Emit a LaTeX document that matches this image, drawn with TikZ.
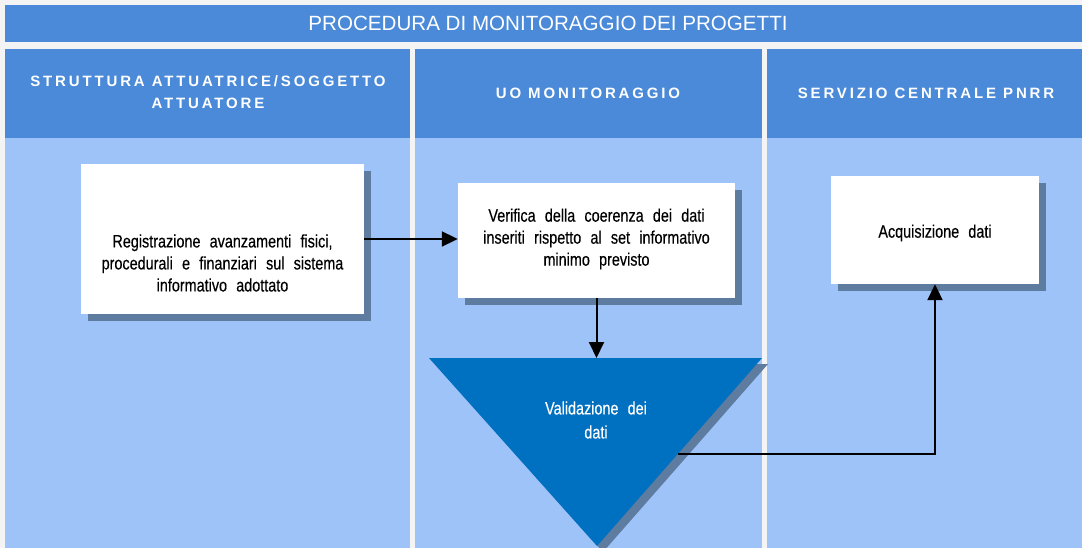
\documentclass[tikz,border=0pt]{standalone}
\usepackage{fontspec}
\setmainfont{Liberation Sans}
\newfontfamily\hdrfont{Liberation Sans}[LetterSpace=19]
\newfontfamily\boxfont{Liberation Sans}[FakeStretch=0.8, WordSpace=2.3, FakeBold=0.3]
\usetikzlibrary{arrows.meta,shadows}
\definecolor{hdrc}{HTML}{4A8AD8}
\definecolor{lanec}{HTML}{9DC3F8}
\definecolor{bgc}{HTML}{F4F4F4}
\definecolor{shadowc}{HTML}{5E7BA0}
\definecolor{tric}{HTML}{0070C0}
\tikzset{
  titletext/.style={text=white, inner sep=0pt, font=\fontsize{20.6}{24}\selectfont},
  lanehdr/.style={text=white, inner sep=0pt, align=center, font=\hdrfont\bfseries\fontsize{15}{22}\selectfont},
  stepbox/.style={draw=none, fill=white, inner sep=0pt,
    drop shadow={shadow xshift=7pt, shadow yshift=-7pt, fill=shadowc, opacity=1}},
  btext/.style={inner sep=0pt, align=center, text=black, font=\boxfont\fontsize{18}{22}\selectfont},
  tritext/.style={inner sep=0pt, align=center, text=white, font=\boxfont\fontsize{18}{24}\selectfont},
  conn/.style={line width=2pt, draw=black, -{Triangle[length=16pt,width=15pt]}},
}
\begin{document}
\begin{tikzpicture}[x=1pt,y=-1pt]
\useasboundingbox (0,0) rectangle (1082,548);
\fill[bgc] (0,0) rectangle (1082,548);
% title
\fill[hdrc] (5,5) rectangle (1082,42);
\node[titletext] (title) at (548,23.5) {PROCEDURA DI MONITORAGGIO DEI PROGETTI};
% lanes
\fill[hdrc] (5,49) rectangle (410,138);
\fill[lanec] (5,138) rectangle (410,548);
\fill[hdrc] (415,49) rectangle (762,138);
\fill[lanec] (415,138) rectangle (762,548);
\fill[hdrc] (767,49) rectangle (1082,138);
\fill[lanec] (767,138) rectangle (1082,548);
\node[lanehdr] (h1) at (208,92) {STRUTTURA ATTUATRICE/SOGGETTO\\ATTUATORE};
\node[lanehdr] (h2) at (588,93) {UO MONITORAGGIO};
\node[lanehdr] (h3) at (926,93) {SERVIZIO CENTRALE PNRR};
% boxes
\node[stepbox, minimum width=283pt, minimum height=150pt] (b1) at (222.5,239) {};
\node[btext] (t1) at (222.5,263) {Registrazione avanzamenti fisici,\\procedurali e finanziari sul sistema\\informativo adottato};
\node[stepbox, minimum width=277pt, minimum height=115pt] (b2) at (596.5,240.5) {};
\node[btext] (t2) at (596.5,239) {Verifica della coerenza dei dati\\inseriti rispetto al set informativo\\minimo previsto};
\node[stepbox, minimum width=208pt, minimum height=108pt] (b3) at (935,230) {};
\node[btext] (t3) at (935,233) {Acquisizione dati};
% triangle
\fill[shadowc] (435,364) -- (768,364) -- (603,552) -- cycle;
\fill[tric] (429,358) -- (762,358) -- (597,546) -- cycle;
\coordinate (tritop) at (597,358);
\coordinate (triout) at (678,454);
\node[tritext] (val) at (596,420) {Validazione dei\\dati};
% connectors
\draw[conn] (b1.east) -- (b1.east -| b2.west);
\draw[conn] (b2.south) -- (b2.south |- tritop);
\draw[conn] (triout) -| (b3.south);
\end{tikzpicture}
\end{document}
